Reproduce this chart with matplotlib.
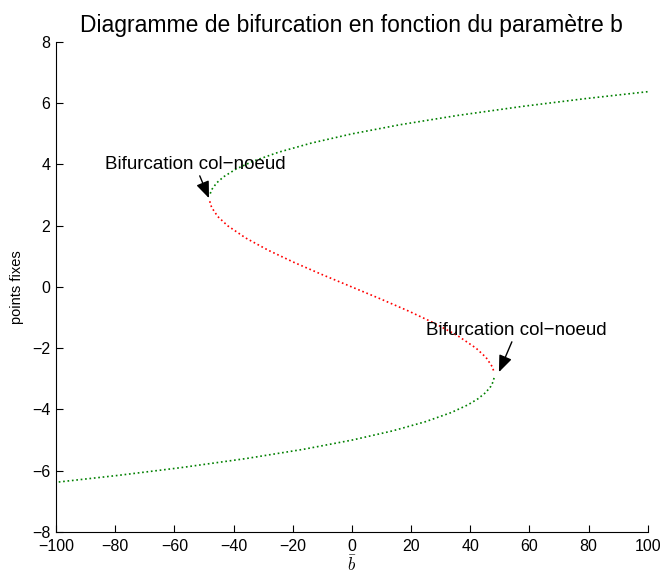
"""Diagramme de bifurcation (col-noeud) : points fixes en fonction de b."""
import matplotlib; matplotlib.use("Agg")
import matplotlib.pyplot as plt

plt.rcParams["font.family"] = ["Liberation Sans", "DejaVu Sans"]
plt.rcParams["mathtext.fontset"] = "cm"

# branche stable haute (verte)
b_haut = [-47.88, -47.23, -45.70, -43.34, -39.18, -33.58, -24.82, -13.68, 0.0,
          16.38, 35.62, 57.88, 78.86, 100.0]
x_haut = [3.05, 3.2, 3.4, 3.6, 3.85, 4.1, 4.4, 4.7, 5.0, 5.3, 5.6, 5.9, 6.15, 6.377]

# branche instable (rouge)
b_mil = [-48.05, -47.42, -45.33, -42.0, -35.90, -28.27, -19.49, -9.94, 0.0,
         9.94, 19.49, 28.27, 35.90, 42.0, 45.33, 47.42, 47.95]
x_mil = [2.8, 2.6, 2.3, 2.0, 1.6, 1.2, 0.8, 0.4, 0.0,
         -0.4, -0.8, -1.2, -1.6, -2.0, -2.3, -2.6, -2.75]

# branche stable basse (verte)
b_bas = [48.05, 47.71, 46.92, 45.19, 42.62, 39.18, 33.58, 24.82, 13.68, 0.0,
         -16.38, -35.62, -57.88, -78.86, -100.0]
x_bas = [-2.97, -3.1, -3.25, -3.45, -3.65, -3.85, -4.1, -4.4, -4.7, -5.0,
         -5.3, -5.6, -5.9, -6.15, -6.377]

vert = "#008000"
rouge = "#ff0000"

fig = plt.figure(figsize=(6.63, 5.76), dpi=100)
ax = fig.add_axes([0.0845, 0.0764, 0.8925, 0.8507])

ax.plot(b_haut, x_haut, ls=":", color=vert, lw=1.2)
ax.plot(b_mil, x_mil, ls=":", color=rouge, lw=1.2)
ax.plot(b_bas, x_bas, ls=":", color=vert, lw=1.2)

arrow = dict(arrowstyle="-|>,head_length=0.75,head_width=0.3", color="k",
             lw=1.0, shrinkA=0, shrinkB=0)
ax.annotate("Bifurcation col\u2212noeud", xy=(-48.3, 2.9), xytext=(-53.0, 3.72),
            arrowprops=arrow, fontsize=13.5, ha="center", va="bottom")
ax.annotate("Bifurcation col\u2212noeud", xy=(49.7, -2.78), xytext=(55.7, -1.70),
            arrowprops=arrow, fontsize=13.5, ha="center", va="bottom")

ax.set_xlim(-100, 100)
ax.set_ylim(-8, 8)
ax.set_xticks(range(-100, 101, 20))
ax.set_yticks(range(-8, 9, 2))
ax.spines["top"].set_visible(False)
ax.spines["right"].set_visible(False)
ax.tick_params(direction="in", length=5, labelsize=11.5, width=0.8)
ax.tick_params(axis="x", pad=5)
ax.tick_params(axis="y", pad=4)
for s in ("left", "bottom"):
    ax.spines[s].set_linewidth(0.8)

ax.set_xlabel(r"$\bar{b}$", fontsize=12, labelpad=0)
ax.set_ylabel("points fixes", fontsize=10.5, labelpad=6)
ax.set_title("Diagramme de bifurcation en fonction du param\u00e8tre b",
             fontsize=16.5, pad=7)

fig.savefig("out.png", dpi=100)
